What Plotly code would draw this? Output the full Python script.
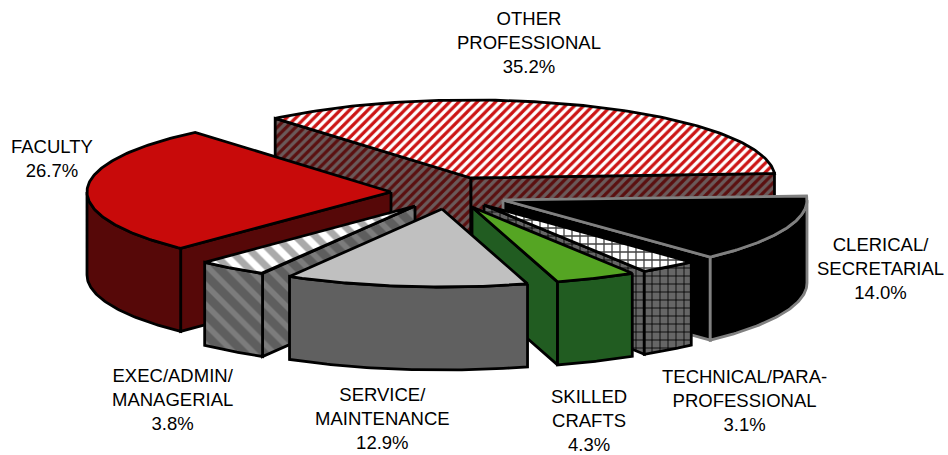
import numpy as np
import plotly.graph_objects as go

# ---- chart data (clockwise from the first slice) ----
categories = ["OTHER<br>PROFESSIONAL", "CLERICAL/<br>SECRETARIAL", "TECHNICAL/PARA-<br>PROFESSIONAL",
              "SKILLED<br>CRAFTS", "SERVICE/<br>MAINTENANCE", "EXEC/ADMIN/<br>MANAGERIAL", "FACULTY"]
values = [35.2, 14.0, 3.1, 4.3, 12.9, 3.8, 26.7]

# ---- projection of the exploded 3-D pie ----
START_DEG = -40.1
RX, RY, DEPTH = 304.0, 78.0, 83.0
apex_x = [471, 503, 484, 472, 442, 415, 391]
apex_y = [178, 200, 205, 207, 209, 206, 192]
label_x = [529, 880, 744, 589, 382, 173, 52]
label_y = [42, 268, 400, 420, 418, 399, 158]

def patt(shape, fg, bg, size, solidity=0.5):
    return dict(fillpattern=dict(shape=shape, fgcolor=fg, bgcolor=bg, size=size,
                                 solidity=solidity, fgopacity=1))

styles = [
    dict(top=patt("/", "#cc1414", "#ffffff", 6.5), side=patt("/", "#5a1010", "#6a5a5a", 6.5), line="#000000"),
    dict(top=dict(fillcolor="#000000"), side=dict(fillcolor="#000000"), line="#808080"),
    dict(top=patt("+", "#444444", "#ffffff", 8, 0.3), side=patt("+", "#000000", "#666666", 8, 0.2), line="#000000"),
    dict(top=dict(fillcolor="#55a523"), side=dict(fillcolor="#215c21"), line="#000000"),
    dict(top=dict(fillcolor="#c0c0c0"), side=dict(fillcolor="#606060"), line="#000000"),
    dict(top=patt("\\", "#aaaaaa", "#ffffff", 14), side=patt("\\", "#7c7c7c", "#5e5e5e", 14, 0.4), line="#000000"),
    dict(top=dict(fillcolor="#c80a0a"), side=dict(fillcolor="#560808"), line="#000000"),
]
draw_order = [0, 1, 2, 3, 6, 5, 4]

frac = np.array(values) / sum(values) * 360
ends = START_DEG + np.cumsum(frac)
starts = ends - frac

def rim_point(i, deg):
    a = np.radians(deg)
    return apex_x[i] + RX * np.sin(a), apex_y[i] - RY * np.cos(a)

fig = go.Figure()

def poly(xs, ys, style, color):
    fig.add_trace(go.Scatter(x=list(xs), y=list(ys), mode="lines", fill="toself",
                             line=dict(color=color, width=2.8), hoverinfo="skip",
                             showlegend=False, **style))

def cut_face(i, deg, st):
    x, y = rim_point(i, deg)
    ax, ay = apex_x[i], apex_y[i]
    poly([ax, x, x, ax, ax], [ay, y, y + DEPTH, ay + DEPTH, ay], st["side"], st["line"])

for i in draw_order:
    st = styles[i]
    s, e = starts[i], ends[i]
    # cut faces that look towards the viewer
    if 180 < (s % 360) < 360:
        cut_face(i, s, st)
    if 0 < (e % 360) < 180:
        cut_face(i, e, st)
    # outer wall: only its front half (90..270 degrees) shows
    lo, hi = max(s, 90), min(e, 270)
    if lo < hi:
        t = np.linspace(lo, hi, 60)
        x, y = rim_point(i, t)
        poly(np.r_[x, x[::-1], x[0]], np.r_[y, (y + DEPTH)[::-1], y[0]], st["side"], st["line"])
    # top surface
    t = np.linspace(s, e, 120)
    x, y = rim_point(i, t)
    poly(np.r_[apex_x[i], x, apex_x[i]], np.r_[apex_y[i], y, apex_y[i]], st["top"], st["line"])

for name, v, lx, ly in zip(categories, values, label_x, label_y):
    fig.add_annotation(x=lx, y=ly, text=f"{name}<br>{v:.1f}%", showarrow=False,
                       xanchor="center", yanchor="middle", align="center",
                       font=dict(family="Liberation Sans, Arial, sans-serif", size=18.5, color="#000000"))

fig.update_layout(
    width=948, height=455, margin=dict(l=0, r=0, t=0, b=0),
    paper_bgcolor="#ffffff", plot_bgcolor="#ffffff", showlegend=False,
    xaxis=dict(range=[0, 948], visible=False, fixedrange=True),
    yaxis=dict(range=[455, 0], visible=False, fixedrange=True),
)
fig.write_html("out.html", config=dict(displayModeBar=False),
               post_script="document.body.style.margin='0';document.body.style.overflow='hidden';")
